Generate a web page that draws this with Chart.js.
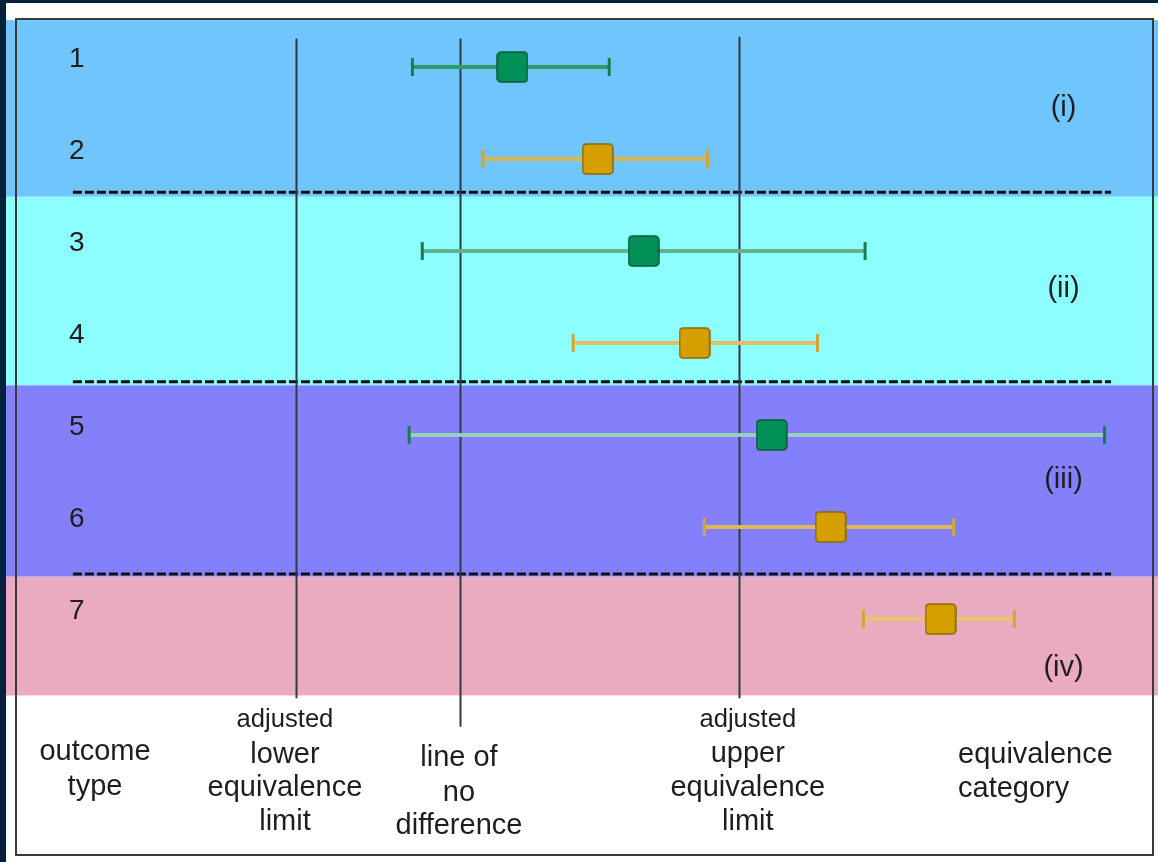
<!DOCTYPE html>
<html>
<head>
<meta charset="utf-8">
<script src="https://cdn.jsdelivr.net/npm/chart.js@4"></script>
<style>
    html, body { margin: 0; padding: 0; width: 1158px; height: 862px; overflow: hidden; background: #04223b; }
    #wrap { position: absolute; left: 6px; top: 3px; width: 1152px; height: 859px; background: #ffffff; }
    canvas { display: block; }
</style>
</head>
<body>
<div id="wrap"><canvas id="forest" width="1152" height="859"></canvas></div>
<script>
// rows of the forest plot (outcome types) and their intervals
const outcomes = ["1", "2", "3", "4", "5", "6", "7"];
const estimate = [0.32, 0.84, 1.12, 1.43, 1.90, 2.26, 2.93];
const lowerCI = [-0.29, 0.14, -0.23, 0.69, -0.31, 1.49, 2.46];
const upperCI = [0.91, 1.51, 2.47, 2.18, 3.93, 3.01, 3.38];
const outcomeKind = ["a", "b", "a", "b", "a", "b", "b"];

// adjusted lower limit, line of no difference, adjusted upper limit
const refLines = [-1, 0, 1.7];

// equivalence categories, shaded bands between row edges
const categories = ["(i)", "(ii)", "(iii)", "(iv)"];
const categoryRows = [1.45, 3.41, 5.49, 7.53];
const bandEdges = [0.49, 2.41, 4.46, 6.54, 7.83];
const separators = [2.36, 4.42, 6.51];

document.addEventListener("DOMContentLoaded", function () {
    const FONT = '"Liberation Sans", Arial, sans-serif';
    const bandColors = ["#70c5fc", "#8cfefe", "#8480fc", "#eaaac0"];
    const whiskerColors = ["#2e9a64", "#dfb64e", "#62b290", "#e4be62", "#93d2b8", "#e0b957", "#e6c56c"];
    const capColors = { a: "#1d7a50", b: "#d2a636" };
    const boxFill = { a: "#009058", b: "#d59f00" };
    const boxEdge = { a: "#0a5a37", b: "#8c6900" };

    function makeBox(kind) {
        const c = document.createElement("canvas");
        c.width = 32; c.height = 32;
        const g = c.getContext("2d");
        const r = 4, s = 1, w = 30;
        g.beginPath();
        g.moveTo(s + r, s);
        g.lineTo(s + w - r, s);
        g.quadraticCurveTo(s + w, s, s + w, s + r);
        g.lineTo(s + w, s + w - r);
        g.quadraticCurveTo(s + w, s + w, s + w - r, s + w);
        g.lineTo(s + r, s + w);
        g.quadraticCurveTo(s, s + w, s, s + w - r);
        g.lineTo(s, s + r);
        g.quadraticCurveTo(s, s, s + r, s);
        g.closePath();
        g.fillStyle = boxFill[kind];
        g.fill();
        g.lineWidth = 1.5;
        g.strokeStyle = boxEdge[kind];
        g.stroke();
        return c;
    }

    const datasets = [];
    ["a", "b"].forEach(kind => {
        datasets.push({
            label: "estimate " + kind,
            order: 0,
            data: outcomes.map((o, i) => ({ x: estimate[i], y: i + 1, kind: outcomeKind[i] }))
                .filter(p => p.kind === kind),
            pointStyle: makeBox(kind),
            pointRadius: 15,
        });
    });
    outcomes.forEach((o, i) => {
        datasets.push({
            label: "CI " + o,
            order: 1,
            showLine: true,
            data: [{ x: lowerCI[i], y: i + 1 }, { x: upperCI[i], y: i + 1 }],
            borderColor: whiskerColors[i],
            borderWidth: 4,
            pointStyle: "line",
            rotation: 90,
            pointRadius: 9,
            pointBorderWidth: 3,
            pointBorderColor: capColors[outcomeKind[i]],
        });
    });

    const backdrop = {
        id: "backdrop",
        beforeDatasetsDraw(chart) {
            const { ctx, scales: { x, y } } = chart;
            ctx.save();
            for (let i = 0; i < bandColors.length; i++) {
                const top = y.getPixelForValue(bandEdges[i]);
                const bottom = y.getPixelForValue(bandEdges[i + 1]);
                ctx.fillStyle = bandColors[i];
                ctx.fillRect(0, top, chart.width, bottom - top);
            }
            // outer frame
            ctx.strokeStyle = "#3a3a3a";
            ctx.lineWidth = 2;
            ctx.strokeRect(10, 16, 1137, 836);

            // dashed separators between categories
            ctx.setLineDash([9, 3]);
            ctx.lineWidth = 3;
            ctx.strokeStyle = "#111111";
            separators.forEach(v => {
                const py = y.getPixelForValue(v);
                ctx.beginPath();
                ctx.moveTo(x.getPixelForValue(-2.36), py);
                ctx.lineTo(x.getPixelForValue(3.97), py);
                ctx.stroke();
            });
            ctx.setLineDash([]);

            // reference lines
            const ends = [[0.69, 7.86], [0.69, 8.17], [0.67, 7.86]];
            ctx.strokeStyle = "#2f3a45";
            ctx.lineWidth = 2;
            refLines.forEach((v, i) => {
                const px = Math.round(x.getPixelForValue(v)) + 0.5;
                ctx.beginPath();
                ctx.moveTo(px, y.getPixelForValue(ends[i][0]));
                ctx.lineTo(px, y.getPixelForValue(ends[i][1]));
                ctx.stroke();
            });
            ctx.restore();
        },
        afterDatasetsDraw(chart) {
            const { ctx, scales: { x, y } } = chart;
            ctx.save();
            ctx.fillStyle = "#1e1e1e";
            ctx.textBaseline = "middle";
            ctx.font = "28px " + FONT;
            ctx.textAlign = "left";
            outcomes.forEach((o, i) => {
                ctx.fillText(o, 63, y.getPixelForValue(i + 1) - 8);
            });
            ctx.textAlign = "center";
            ctx.font = "29px " + FONT;
            categories.forEach((c, i) => {
                ctx.fillText(c, x.getPixelForValue(3.68), y.getPixelForValue(categoryRows[i]));
            });

            const lx = x.getPixelForValue(refLines[0]) - 11;
            const nx = x.getPixelForValue(refLines[1]) - 1;
            const ux = x.getPixelForValue(refLines[2]) + 9;
            ctx.font = "25.6px " + FONT;
            ctx.fillText("adjusted", lx, 717);
            ctx.fillText("adjusted", ux, 717);
            ctx.font = "29px " + FONT;
            ctx.fillText("outcome", 89, 749);
            ctx.fillText("type", 89, 784);
            ctx.fillText("lower", lx, 752);
            ctx.fillText("equivalence", lx, 785);
            ctx.fillText("limit", lx, 819);
            ctx.fillText("line of", nx, 755);
            ctx.fillText("no", nx, 790);
            ctx.fillText("difference", nx, 823);
            ctx.fillText("upper", ux, 751);
            ctx.fillText("equivalence", ux, 785);
            ctx.fillText("limit", ux, 819);
            ctx.textAlign = "left";
            ctx.fillText("equivalence", 952, 752);
            ctx.fillText("category", 952, 786);
            ctx.restore();
        }
    };

    new Chart(document.getElementById("forest").getContext("2d"), {
        type: "scatter",
        data: { datasets },
        options: {
            responsive: false,
            animation: false,
            devicePixelRatio: 1,
            layout: { padding: 0, autoPadding: false },
            plugins: { legend: { display: false }, tooltip: { enabled: false } },
            scales: {
                x: { type: "linear", min: -2.768, max: 4.256, display: false },
                y: { type: "linear", min: 0.304, max: 9.641, reverse: true, display: false }
            }
        },
        plugins: [backdrop]
    });
});
</script>
</body>
</html>
